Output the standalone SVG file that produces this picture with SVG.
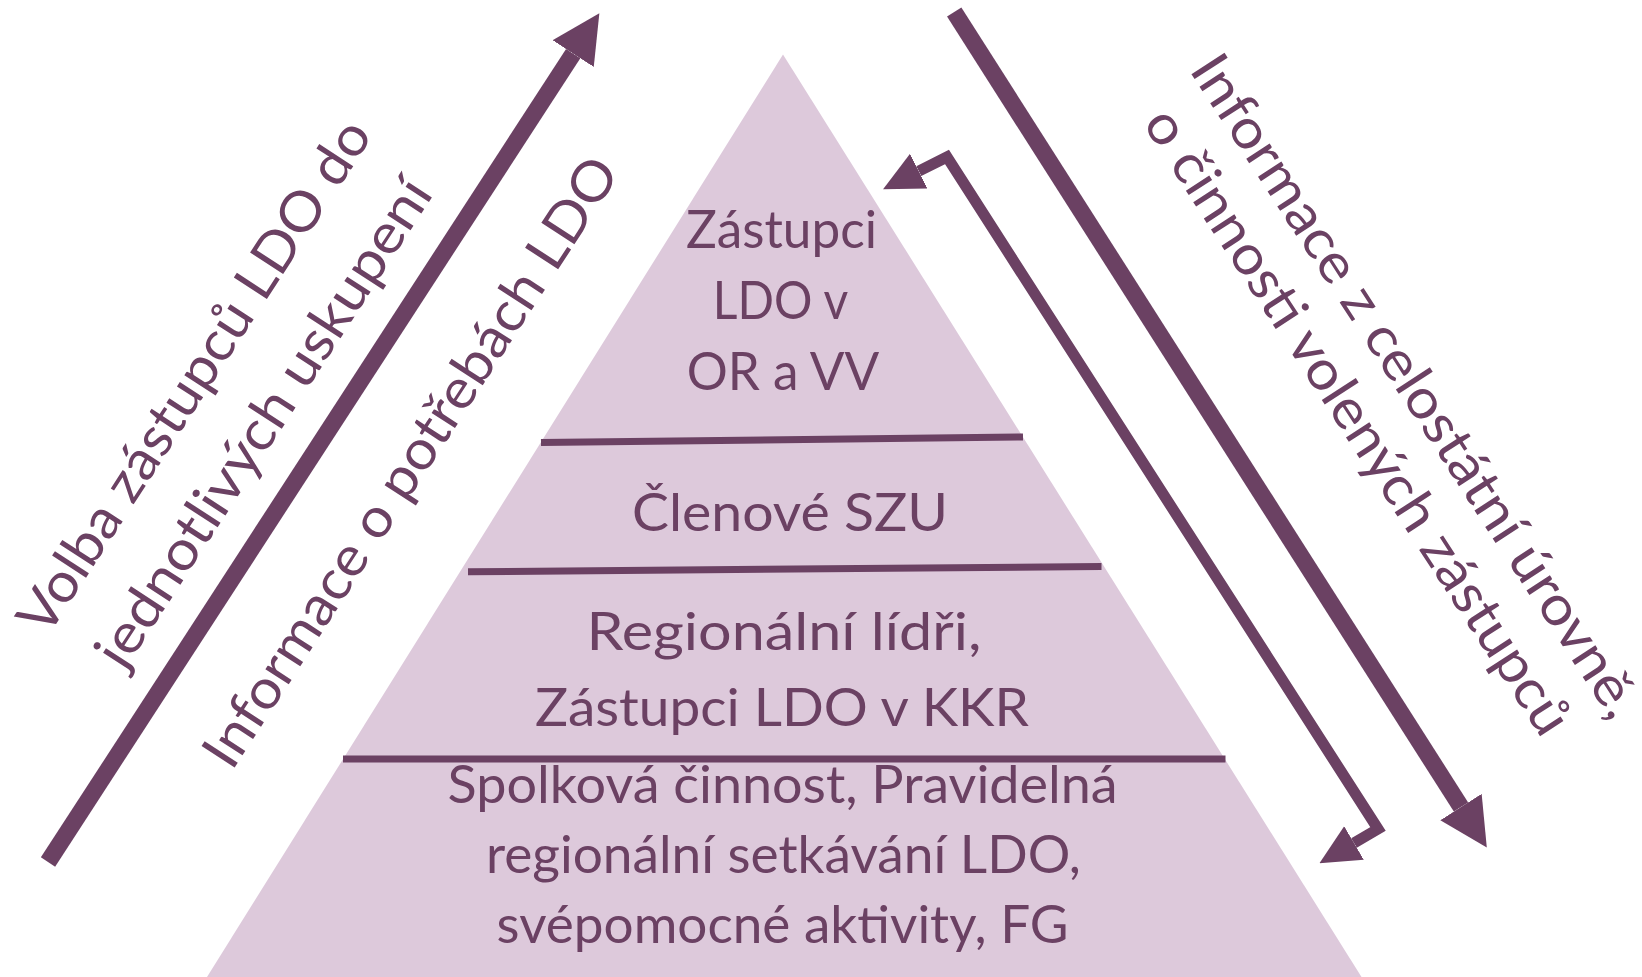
<svg xmlns="http://www.w3.org/2000/svg" width="1642" height="977" viewBox="0 0 1642 977">
<style>
.t{font-family:Lato,"Liberation Sans",sans-serif;fill:#6B4163;text-anchor:middle}
.p{font-size:52px}
.r{font-size:55px}
.sep{stroke:#6B4163;stroke-width:7;fill:none}
.big{stroke:#6B4163;stroke-width:17;fill:none;marker-end:url(#hb)}
.small{stroke:#6B4163;stroke-width:11;fill:none;stroke-linejoin:miter;marker-start:url(#hs);marker-end:url(#hs)}
</style>
<defs>
<marker id="hb" markerUnits="userSpaceOnUse" markerWidth="48" markerHeight="50" viewBox="0 -25 48 50" refX="0" refY="0" orient="auto"><path d="M0,-24.5 L48,0 L0,24.5 Z" fill="#6B4163"/></marker>
<marker id="hs" markerUnits="userSpaceOnUse" markerWidth="40" markerHeight="40" viewBox="0 -20 40 40" refX="0" refY="0" orient="auto-start-reverse"><path d="M0,-19.5 L40,0 L0,19.5 Z" fill="#6B4163"/></marker>
</defs>
<rect width="1642" height="977" fill="#FFFFFF"/>
<g id="pyramid">
<polygon points="783,54.5 1361.5,977 207,977" fill="#DDC9DB"/>
<line class="sep" x1="541" y1="442.5" x2="1023" y2="437"/>
<line class="sep" x1="468" y1="571.8" x2="1101.5" y2="566.5"/>
<line class="sep" x1="343" y1="759" x2="1225.5" y2="759"/>
</g>
<g id="level-top">
<text class="t p" x="781.5" y="247.5" textLength="191" lengthAdjust="spacingAndGlyphs">Zástupci</text>
<text class="t p" x="780.5" y="319" textLength="135.5" lengthAdjust="spacingAndGlyphs">LDO v</text>
<text class="t p" x="783" y="390" textLength="192.5" lengthAdjust="spacingAndGlyphs">OR a VV</text>
</g>
<g id="level-szu">
<text class="t p" x="790" y="530.5" textLength="316" lengthAdjust="spacingAndGlyphs">Členové SZU</text>
</g>
<g id="level-regional">
<text class="t p" x="784" y="650" textLength="395" lengthAdjust="spacingAndGlyphs">Regionální lídři,</text>
<text class="t p" x="782" y="726" textLength="494" lengthAdjust="spacingAndGlyphs">Zástupci LDO v KKR</text>
</g>
<g id="level-base">
<text class="t p" x="782.6" y="803.3" textLength="670" lengthAdjust="spacingAndGlyphs">Spolková činnost, Pravidelná</text>
<text class="t p" x="783.4" y="873.3" textLength="595" lengthAdjust="spacingAndGlyphs">regionální setkávání LDO,</text>
<text class="t p" x="782.6" y="943.3" textLength="572" lengthAdjust="spacingAndGlyphs">svépomocné aktivity, FG</text>
</g>
<g id="connectors">
<line class="big" x1="48" y1="862" x2="573.2" y2="53.6"/>
<line class="big" x1="954.2" y1="12" x2="1461" y2="807"/>
<polyline class="small" points="918.8,171.2 947,157 1378,829 1354,843"/>
</g>
<g id="label-left" transform="translate(48,862) rotate(-57)">
<text class="t r" x="487" y="-123" textLength="600" lengthAdjust="spacingAndGlyphs">Volba zástupců LDO do</text>
<text class="t r" x="486" y="-40" textLength="570" lengthAdjust="spacingAndGlyphs">jednotlivých uskupení</text>
<text class="t r" x="533" y="105" textLength="715" lengthAdjust="spacingAndGlyphs">Informace o potřebách LDO</text>
</g>
<g id="label-right" transform="translate(954.2,12) rotate(57)">
<text class="t r" x="565" y="-165" textLength="778" lengthAdjust="spacingAndGlyphs">Informace z celostátní úrovně,</text>
<text class="t r" x="563" y="-97" textLength="735" lengthAdjust="spacingAndGlyphs">o činnosti volených zástupců</text>
</g>
</svg>
